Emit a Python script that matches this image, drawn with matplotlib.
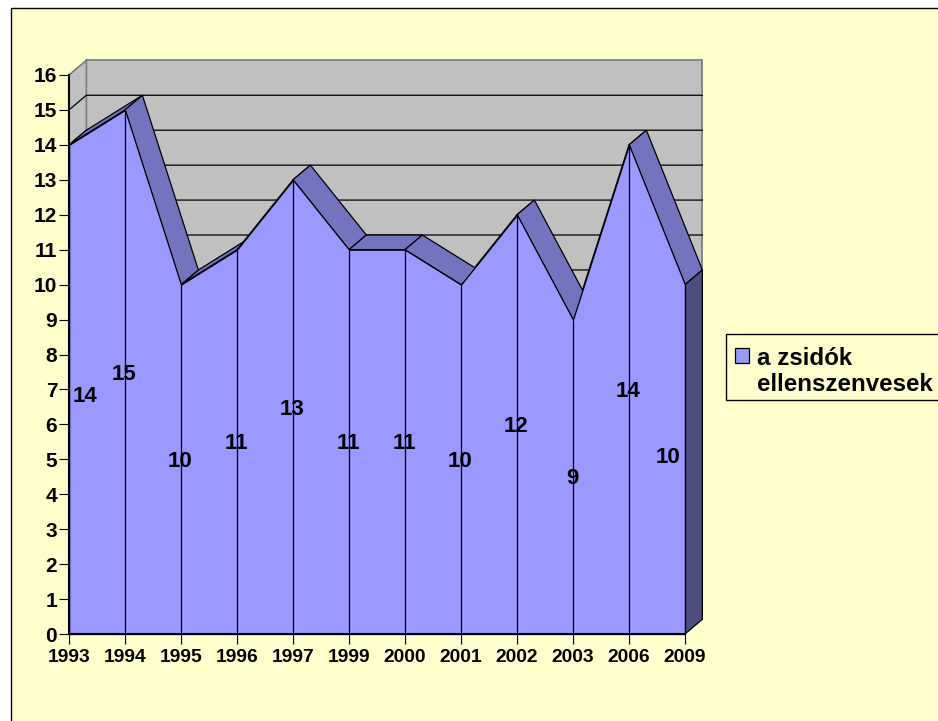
import matplotlib
matplotlib.use("Agg")
import matplotlib.pyplot as plt
from matplotlib.patches import Polygon, Rectangle, Patch

plt.rcParams['font.family'] = ['Liberation Sans', 'DejaVu Sans']
plt.rcParams['font.weight'] = 'bold'

years = ["1993", "1994", "1995", "1996", "1997", "1999", "2000", "2001", "2002", "2003", "2006", "2009"]
values = [14, 15, 10, 11, 13, 11, 11, 10, 12, 9, 14, 10]
series_name = "a zsidók\nellenszenvesek"
yticks = list(range(0, 17))

W, H = 938, 721
FRONT = "#9999FF"
RIDGE = "#7373BF"
SIDE = "#4D4D80"
WALL = "#C0C0C0"
WALL_EDGE = "#808080"
PAPER = "#FFFFCC"

fig = plt.figure(figsize=(W / 100, H / 100), dpi=100, facecolor="white")

# paper box, runs off the right and bottom of the image
fig.add_artist(Rectangle((11 / W, -0.05), 1.1, 1 - 8.5 / H + 0.05, transform=fig.transFigure,
                         facecolor=PAPER, edgecolor="black", linewidth=1.0, zorder=-1))

ax = fig.add_axes([69 / W, 1 - 634 / H, (685 - 69) / W, (634 - 75) / H])
ax.patch.set_visible(False)
ax.set_xlim(0, len(years) - 1)
ax.set_ylim(0, 16)

# depth of the fake 3d, in data units
dx = 0.31
dy = 0.42
n = len(years)
last = n - 1

# back and left wall
ax.add_patch(Polygon([(dx, dy), (last + dx, dy), (last + dx, 16 + dy), (dx, 16 + dy)],
                     facecolor=WALL, edgecolor=WALL_EDGE, linewidth=1.3, clip_on=False, zorder=1))
ax.add_patch(Polygon([(0, 0), (dx, dy), (dx, 16 + dy), (0, 16)],
                     facecolor=WALL, edgecolor=WALL_EDGE, linewidth=1.3, clip_on=False, zorder=1))
for v in yticks[1:-1]:
    ax.plot([0, dx, last + dx], [v, v + dy, v + dy], color="black", lw=0.9, clip_on=False, zorder=2)

# top of the area, rising pieces first so the falling ones cover them
order = sorted(range(n - 1), key=lambda i: values[i + 1] <= values[i])
for i in order:
    a, b = values[i], values[i + 1]
    ax.add_patch(Polygon([(i, a), (i + 1, b), (i + 1 + dx, b + dy), (i + dx, a + dy)],
                         facecolor=RIDGE, edgecolor="black", linewidth=0.9, clip_on=False, zorder=3))

# right end
ax.add_patch(Polygon([(last, values[-1]), (last + dx, values[-1] + dy), (last + dx, dy), (last, 0)],
                     facecolor=SIDE, edgecolor="black", linewidth=0.9, clip_on=False, zorder=3))

# front
xs = list(range(n))
ax.fill_between(xs, values, 0, facecolor=FRONT, edgecolor="black", linewidth=0.9, zorder=4, clip_on=False)
ax.vlines(xs, 0, values, color="black", lw=0.9, zorder=5)

# data labels, first and last are pulled inside
label_x = list(xs)
label_x[0] = 0.29
label_x[-1] = 10.7
label_shift = [-0.06] * n
label_shift[0] = -0.2
label_shift[-1] = 0.05
for x, v, s in zip(label_x, values, label_shift):
    ax.text(x - 0.01, v / 2 + s, str(v), ha="center", va="center", fontsize=16, fontweight="bold",
            color="black", zorder=6)

ax.set_xticks(xs)
ax.set_xticklabels(years, fontsize=13.9, fontweight="bold")
ax.set_yticks(yticks)
ax.set_yticklabels([str(v) for v in yticks], fontsize=15, fontweight="bold")
ax.tick_params(axis="x", length=7.5, width=0.8, pad=3)
ax.tick_params(axis="y", length=7.5, width=0.8, pad=1)
for s in ["top", "right"]:
    ax.spines[s].set_visible(False)
for s in ["left", "bottom"]:
    ax.spines[s].set_linewidth(1.5)
    ax.spines[s].set_zorder(7)

# legend frame is drawn apart, the text sits low in it
fig.add_artist(Rectangle((726 / W, 1 - 399.5 / H), 240 / W, 65.5 / H, transform=fig.transFigure,
                         facecolor=PAPER, edgecolor="black", linewidth=1.0, zorder=-0.5))
leg = fig.legend(handles=[Patch(facecolor=FRONT, edgecolor="black", linewidth=0.9, label=series_name)],
                 loc="upper left", bbox_to_anchor=(724 / W, 1 - 336 / H), frameon=False,
                 handlelength=0.57, handleheight=0.57, handletextpad=0.33, borderpad=0.45, borderaxespad=0,
                 prop={"size": 17.4, "weight": "bold"})
# marker sits next to the first line of the label
h = leg.legend_handles[0]
h.set_y(h.get_y() + 12)

fig.savefig("out.png", dpi=100, facecolor=fig.get_facecolor())
